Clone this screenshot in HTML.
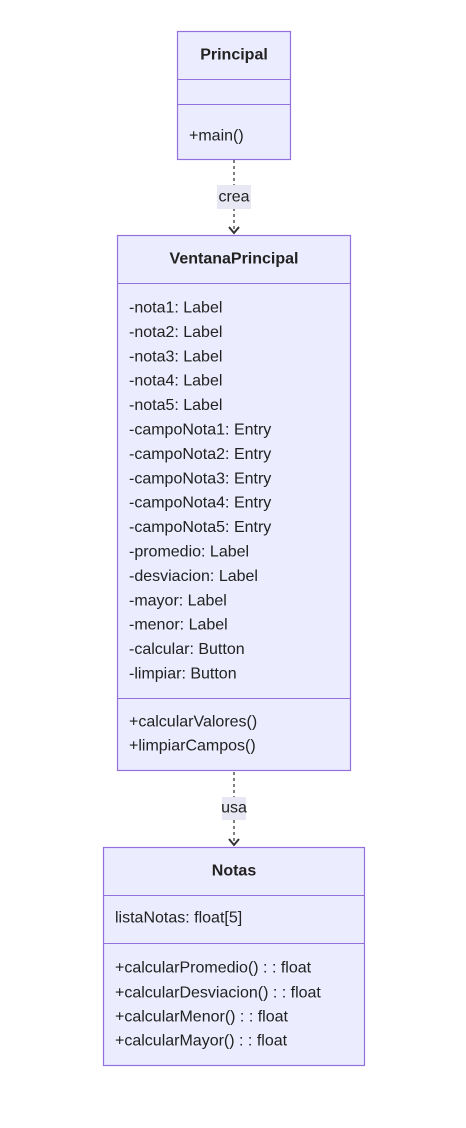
<!DOCTYPE html>
<html><head><meta charset="utf-8"><style>
html,body{margin:0;padding:0;background:#fff;}
svg{display:block;}
text{font-family:"Liberation Sans",sans-serif;font-size:16px;fill:#222;dominant-baseline:central;}
.t{font-weight:bold;text-anchor:middle;}
.b{fill:#ECECFF;stroke:#9370DB;stroke-width:1.2;}
.d{stroke:#9370DB;stroke-width:1;}
.e{stroke:#555;stroke-width:1.5;stroke-dasharray:3,3;fill:none;}
.lb{fill:#E8E8F4;}
</style></head><body>
<svg width="466" height="1128" viewBox="0 0 466 1128">
<defs><marker id="a" markerWidth="12" markerHeight="12" refX="10" refY="6" orient="auto" markerUnits="userSpaceOnUse" viewBox="0 0 12 12"><path d="M4,1 L10,6 L4,11" fill="none" stroke="#333" stroke-width="2"/></marker></defs>

<rect class="b" x="177.5" y="31.5" width="113" height="128"/>
<line class="d" x1="177.5" y1="79.5" x2="290.5" y2="79.5"/>
<line class="d" x1="177.5" y1="104.5" x2="290.5" y2="104.5"/>
<text class="t" x="234" y="55">Principal</text>
<text x="189" y="136">+main()</text>

<line class="e" x1="234" y1="160" x2="234" y2="233" marker-end="url(#a)"/>
<rect class="lb" x="217" y="185" width="34" height="24"/>
<text x="234" y="197" style="text-anchor:middle">crea</text>

<rect class="b" x="117.5" y="235.5" width="233" height="535"/>
<line class="d" x1="117.5" y1="283.5" x2="350.5" y2="283.5"/>
<line class="d" x1="117.5" y1="698.5" x2="350.5" y2="698.5"/>
<text class="t" x="234" y="259">VentanaPrincipal</text>
<text x="129" y="308">-nota1: Label</text>
<text x="129" y="332.4">-nota2: Label</text>
<text x="129" y="356.8">-nota3: Label</text>
<text x="129" y="381.2">-nota4: Label</text>
<text x="129" y="405.6">-nota5: Label</text>
<text x="129" y="430">-campoNota1: Entry</text>
<text x="129" y="454.4">-campoNota2: Entry</text>
<text x="129" y="478.8">-campoNota3: Entry</text>
<text x="129" y="503.2">-campoNota4: Entry</text>
<text x="129" y="527.6">-campoNota5: Entry</text>
<text x="129" y="552">-promedio: Label</text>
<text x="129" y="576.4">-desviacion: Label</text>
<text x="129" y="600.8">-mayor: Label</text>
<text x="129" y="625.2">-menor: Label</text>
<text x="129" y="649.6">-calcular: Button</text>
<text x="129" y="674">-limpiar: Button</text>
<text x="129" y="722">+calcularValores()</text>
<text x="129" y="746">+limpiarCampos()</text>

<line class="e" x1="234" y1="772" x2="234" y2="845" marker-end="url(#a)"/>
<rect class="lb" x="222" y="797" width="24" height="23"/>
<text x="234" y="808" style="text-anchor:middle">usa</text>

<rect class="b" x="103.5" y="847.5" width="261" height="218"/>
<line class="d" x1="103.5" y1="895.5" x2="364.5" y2="895.5"/>
<line class="d" x1="103.5" y1="943.5" x2="364.5" y2="943.5"/>
<text class="t" x="234" y="871">Notas</text>
<text x="115" y="918">listaNotas: float[5]</text>
<text x="115" y="968">+calcularPromedio() : : float</text>
<text x="115" y="993">+calcularDesviacion() : : float</text>
<text x="115" y="1017">+calcularMenor() : : float</text>
<text x="115" y="1041">+calcularMayor() : : float</text>
</svg>
</body></html>
